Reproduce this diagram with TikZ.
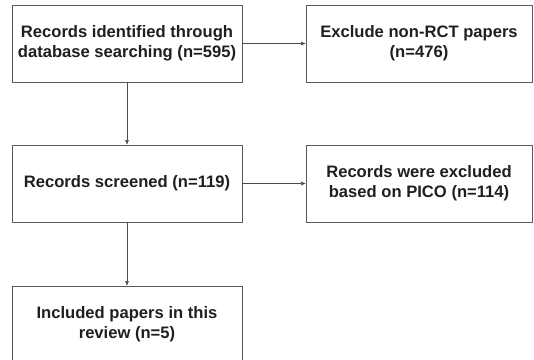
\documentclass[tikz,border=0pt]{standalone}
\usepackage{fontspec}
\setmainfont{Liberation Sans}
\usetikzlibrary{arrows.meta}
\begin{document}
\begin{tikzpicture}[x=1pt,y=-1pt,
  box/.style={draw=black!65, line width=0.9pt, minimum height=77pt, align=center,
    font=\bfseries\fontsize{16.6}{20}\selectfont, text=black!88, inner sep=0pt},
  lbox/.style={box, minimum width=230pt},
  rbox/.style={box, minimum width=226pt},
  conn/.style={draw=black!70, line width=0.6pt, -{Triangle[length=4.5pt,width=3.5pt]}}]
\useasboundingbox (0,0) rectangle (534,359);
\clip (0,0) rectangle (534,359);
\node[lbox] (a) at (127,43.5) {Records identified through\\database searching (n=595)};
\node[rbox] (b) at (419,43.5) {Exclude non-RCT papers\\(n=476)};
\node[lbox] (c) at (127,183.5) {Records screened (n=119)};
\node[rbox] (d) at (419,183.5) {Records were excluded\\based on PICO (n=114)};
\node[lbox] (e) at (127,324.5) {Included papers in this\\review (n=5)};
\draw[conn] (a) -- (b);
\draw[conn] (a) -- (c);
\draw[conn] (c) -- (d);
\draw[conn] (c) -- (e);
\end{tikzpicture}
\end{document}
